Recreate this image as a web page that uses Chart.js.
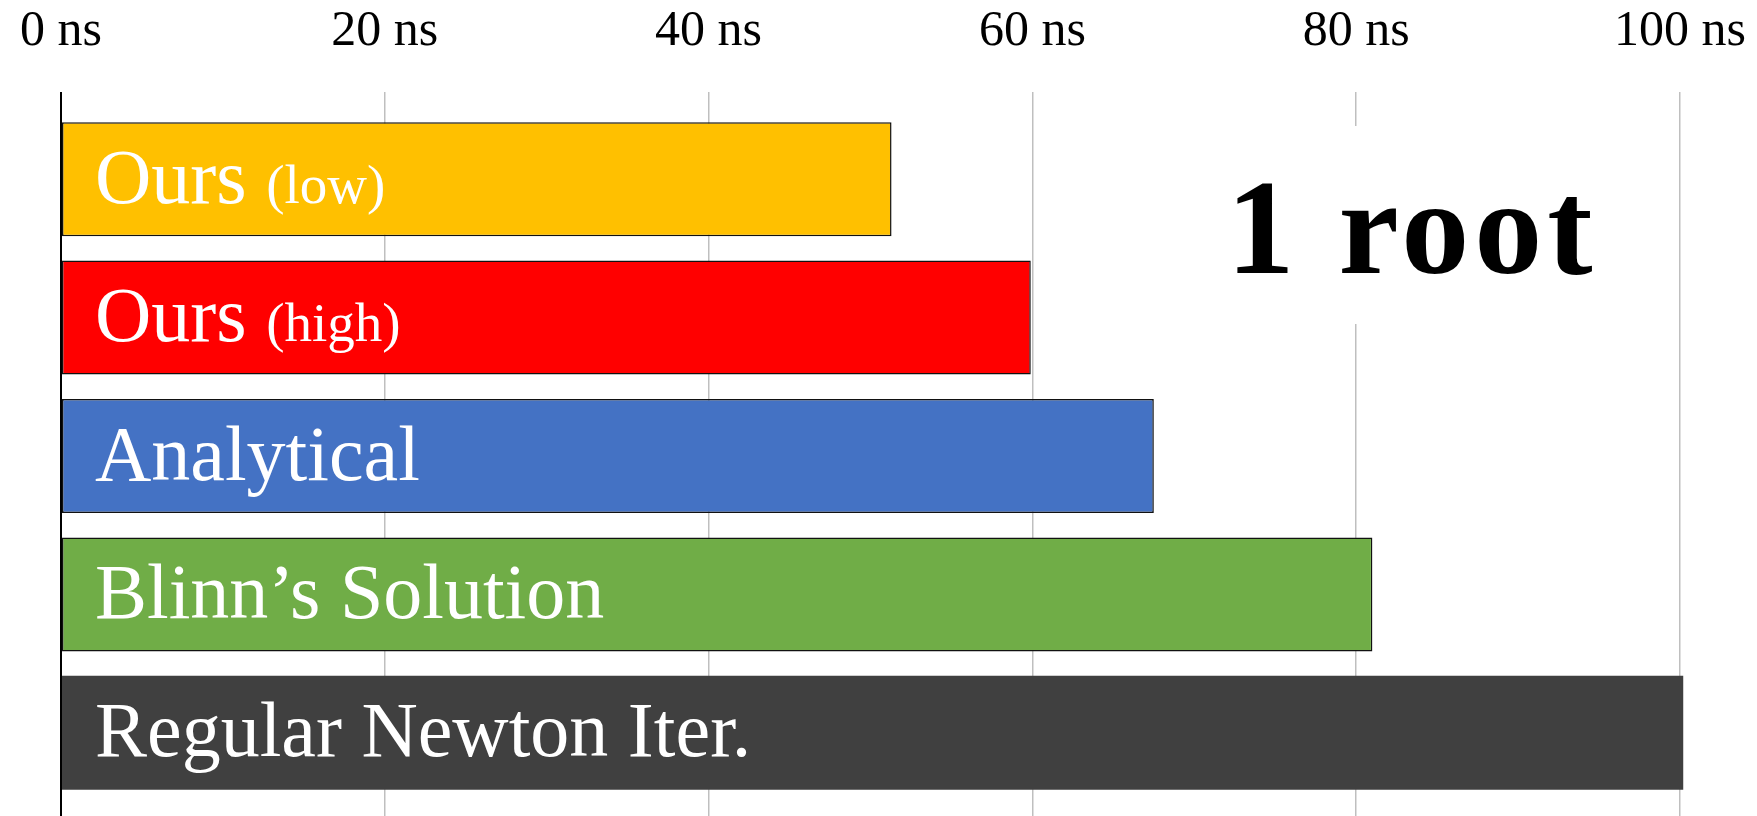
<!DOCTYPE html>
<html>
<head>
<meta charset="utf-8">
<title>1 root</title>
<script src="https://cdn.jsdelivr.net/npm/chart.js@4"></script>
<style>
  html, body { margin: 0; padding: 0; background: #fff; }
  canvas { display: block; }
</style>
</head>
<body>
<canvas id="canvas-bar" width="1757" height="816"></canvas>
<script>
const methods = ["Ours (low)", "Ours (high)", "Analytical", "Blinn’s Solution", "Regular Newton Iter."];
const timesNs = [51.3, 59.9, 67.5, 81.0, 100.2];
const barColors = ["#FFC000", "#FF0000", "#4472C4", "#70AD47", "#404040"];
const tickValues = [0, 20, 40, 60, 80, 100];
const panelTitle = "1 root";

const serif = "'Liberation Serif', 'Times New Roman', serif";
const canvasBar = document.getElementById("canvas-bar");

// zero line is the black axis, the rest light gray
const gridColor = c => (c.tick && c.tick.value === 0 ? "#000" : "#bfbfbf");
const gridWidth = c => (c.tick && c.tick.value === 0 ? 2 : 1.5);
const setTicks = axis => { axis.ticks = tickValues.map(v => ({ value: v })); };

// method names written inside the bars, plus the "1 root" caption
const barLabels = {
  id: "barLabels",
  afterDatasetsDraw(chart) {
    const ctx = chart.ctx;
    const area = chart.chartArea;
    const meta = chart.getDatasetMeta(0);
    ctx.save();
    ctx.textBaseline = "alphabetic";
    ctx.fillStyle = "#fff";
    meta.data.forEach((bar, i) => {
      const m = methods[i].match(/^(.*?)\s*(\(.*\))?$/);
      let x = bar.base + 33;
      const y = bar.y + 23.5;
      ctx.font = "78px " + serif;
      ctx.fillText(m[1], x, y);
      if (m[2]) {
        x += ctx.measureText(m[1] + " ").width;
        ctx.font = "55px " + serif;
        ctx.fillText(m[2], x, y);
      }
    });

    // white box behind the caption hides the grid line
    ctx.fillRect(area.right - 480, area.top + 16, 420, 198);
    ctx.fillStyle = "#000";
    ctx.font = "bold 136px " + serif;
    ctx.letterSpacing = "5px";
    ctx.textAlign = "center";
    ctx.fillText(panelTitle, area.right - 268, area.top + 163);
    ctx.restore();
  }
};

new Chart(canvasBar, {
  type: "bar",
  data: {
    labels: methods,
    datasets: [
      {
        data: timesNs,
        backgroundColor: barColors,
        borderColor: "#111",
        borderWidth: [1.5, 1.5, 1.5, 1.5, 0],
        borderSkipped: false,
        barPercentage: 0.824,
        categoryPercentage: 1,
        clip: false,
      },
    ],
  },
  options: {
    indexAxis: "y",
    responsive: false,
    animation: false,
    layout: { padding: { left: 61, right: 77, top: -29, bottom: 0 } },
    plugins: {
      legend: { display: false },
      tooltip: { enabled: false },
    },
    scales: {
      x: {
        position: "top",
        min: 0,
        max: 100,
        afterBuildTicks: setTicks,
        ticks: {
          callback: v => v + " ns",
          color: "#000",
          font: { family: serif, size: 50, lineHeight: 121 / 50 },
          padding: 0,
          maxRotation: 0,
        },
        grid: { color: gridColor, lineWidth: gridWidth, tickLength: 18 },
        border: { display: false },
      },
      // only there to carry the grid lines down to the bottom edge
      x2: {
        position: "bottom",
        min: 0,
        max: 100,
        afterBuildTicks: setTicks,
        ticks: { display: false },
        grid: { color: gridColor, lineWidth: gridWidth, drawOnChartArea: false, tickLength: 14 },
        border: { display: false },
      },
      y: {
        display: false,
      },
    },
  },
  plugins: [barLabels],
});
</script>
</body>
</html>
